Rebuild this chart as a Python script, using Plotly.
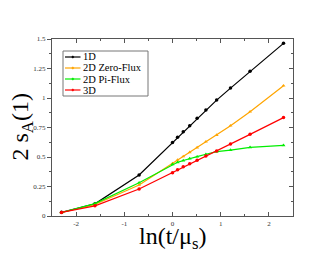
import plotly.graph_objects as go

# ln(t/mu_s) sample positions
x_vals = [-2.303, -1.609, -0.693, 0.0, 0.105, 0.223, 0.357, 0.511, 0.693, 0.916, 1.204, 1.609, 2.303]

y_1d = [0.031, 0.103, 0.347, 0.622, 0.667, 0.713, 0.765, 0.828, 0.898, 0.982, 1.084, 1.226, 1.463]
y_2d_zero = [0.030, 0.097, 0.263, 0.445, 0.475, 0.505, 0.540, 0.580, 0.630, 0.686, 0.765, 0.884, 1.104]
y_2d_pi = [0.030, 0.105, 0.282, 0.438, 0.455, 0.470, 0.487, 0.503, 0.523, 0.545, 0.559, 0.582, 0.599]
y_3d = [0.030, 0.086, 0.229, 0.367, 0.392, 0.418, 0.443, 0.472, 0.508, 0.551, 0.610, 0.692, 0.834]

series_names = ["1D", "2D Zero-Flux", "2D Pi-Flux", "3D"]
series_vals = [y_1d, y_2d_zero, y_2d_pi, y_3d]
series_colors = ["#000000", "#FFA500", "#00EE00", "#FF0000"]
series_symbols = ["circle", "triangle-up", "triangle-up", "circle"]

x_ticks = [-2, -1, 0, 1, 2]
x_tick_text = ["-2", "-1", "0", "1", "2"]
y_ticks = [0, 0.25, 0.5, 0.75, 1, 1.25, 1.5]
y_tick_text = ["0", "0.25", "0.5", "0.75", "1", "1.25", "1.5"]

SERIF = "Liberation Serif, Times New Roman, serif"

fig = go.Figure()
for name, vals, col, sym in zip(series_names, series_vals, series_colors, series_symbols):
    fig.add_trace(go.Scatter(
        x=x_vals, y=vals, mode="lines+markers", name=name,
        line=dict(color=col, width=1.2),
        marker=dict(color=col, size=3.5, symbol=sym),
        showlegend=False,
    ))

axis_common = dict(showgrid=False, zeroline=False, showline=True,
                   linecolor="#555555", linewidth=1.2,
                   tickfont=dict(family=SERIF, size=7, color="#333333"))

# page has an 8px body margin; plot area in page pixels: x 52..293, y 39..216
fig.update_layout(
    width=330, height=255,
    margin=dict(l=44, r=45, t=31, b=47),
    paper_bgcolor="white", plot_bgcolor="white",
    xaxis=dict(range=[-2.5, 2.5], tickvals=x_ticks, ticktext=x_tick_text,
               ticks="inside", ticklen=4, tickcolor="#555555", tickwidth=1,
               minor=dict(ticks="inside", dtick=0.5, tick0=0, ticklen=2, tickcolor="#555555"),
               **axis_common),
    yaxis=dict(range=[0, 1.5], tickvals=y_ticks, ticktext=y_tick_text,
               ticks="outside", ticklen=4, tickcolor="#555555", tickwidth=1,
               minor=dict(ticks="outside", dtick=0.125, tick0=0, ticklen=2, tickcolor="#555555"),
               **axis_common),
    xaxis2=dict(range=[-2.5, 2.5], overlaying="x", side="top", tickvals=x_ticks,
                showticklabels=False, ticks="inside", ticklen=4, tickcolor="#555555",
                minor=dict(ticks="inside", dtick=0.5, tick0=0, ticklen=2, tickcolor="#555555"),
                showgrid=False, zeroline=False, showline=True, linecolor="#555555", linewidth=1.2),
    yaxis2=dict(range=[0, 1.5], overlaying="y", side="right", tickvals=y_ticks,
                showticklabels=False, ticks="inside", ticklen=4, tickcolor="#555555",
                minor=dict(ticks="inside", dtick=0.125, tick0=0, ticklen=2, tickcolor="#555555"),
                showgrid=False, zeroline=False, showline=True, linecolor="#555555", linewidth=1.2),
)

# invisible trace to activate the mirrored axes
fig.add_trace(go.Scatter(x=[None], y=[None], xaxis="x2", yaxis="y2", showlegend=False, hoverinfo="skip"))

# axis titles
fig.add_annotation(xref="paper", yref="paper", x=0.5, y=0, yshift=-6, yanchor="top",
                   text="ln(t/μ<sub>s</sub>)", showarrow=False, borderpad=0,
                   font=dict(family=SERIF, size=24, color="black"))
fig.add_annotation(xref="paper", yref="paper", x=0, y=0.5, xshift=-31, xanchor="center",
                   text="2 s<sub>A</sub>(1)", showarrow=False, textangle=-90, borderpad=0,
                   font=dict(family=SERIF, size=24, color="black"))

# custom compact legend (positions given in page pixels, converted to paper units)
W, H = 241.0, 177.0
def px_x(p):
    return (p - 52) / W
def px_y(p):
    return 1 - (p - 39) / H

fig.add_shape(type="rect", xref="paper", yref="paper",
              x0=px_x(63), x1=px_x(148), y0=px_y(96), y1=px_y(51),
              line=dict(color="#777777", width=1), fillcolor="white")
row_y = [57, 68, 79, 90]
for name, col, sym, ry in zip(series_names, series_colors, series_symbols, row_y):
    fig.add_shape(type="line", xref="paper", yref="paper",
                  x0=px_x(65), x1=px_x(80.5), y0=px_y(ry), y1=px_y(ry),
                  line=dict(color=col, width=1.2))
    fig.add_shape(type="circle", xref="paper", yref="paper",
                  x0=px_x(71.8), x1=px_x(73.8), y0=px_y(ry + 1), y1=px_y(ry - 1),
                  line=dict(color=col, width=0.5), fillcolor=col)
    fig.add_annotation(xref="paper", yref="paper", x=px_x(82), y=px_y(ry),
                       xanchor="left", yanchor="middle", text=name, showarrow=False,
                       borderpad=0,
                       font=dict(family=SERIF, size=10.5, color="black"))

fig.write_html("out.html")
